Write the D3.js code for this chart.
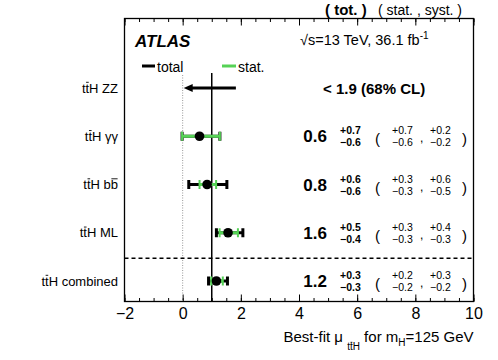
<!DOCTYPE html>
<html><head><meta charset="utf-8">
<script src="https://cdn.jsdelivr.net/npm/d3@7"></script>
<style>body{margin:0;background:#fff} text{font-family:"Liberation Sans",Arial,Helvetica,sans-serif}</style>
</head><body><svg id="c" width="498" height="360"></svg>
<script>
// ---- data ----
const categories = ["ttH ZZ", "ttH γγ", "ttH bb", "ttH ML", "ttH combined"];
const overlineIdx = [[1], [1], [1, 5], [1], [1]];
const limitZZ = 1.83;
const limitText = "< 1.9 (68% CL)";
const central = [null, 0.58, 0.84, 1.56, 1.16];
const totUp = [null, 0.70, 0.68, 0.51, 0.38];
const totDn = [null, 0.60, 0.63, 0.40, 0.27];
const statUp = [null, 0.70, 0.31, 0.34, 0.22];
const statDn = [null, 0.60, 0.26, 0.29, 0.18];
const valText = [null, "0.6", "0.8", "1.6", "1.2"];
const totUpText = [null, "+0.7", "+0.6", "+0.5", "+0.3"];
const totDnText = [null, "−0.6", "−0.6", "−0.4", "−0.3"];
const statUpText = [null, "+0.7", "+0.3", "+0.3", "+0.2"];
const statDnText = [null, "−0.6", "−0.3", "−0.3", "−0.2"];
const systUpText = [null, "+0.2", "+0.6", "+0.4", "+0.3"];
const systDnText = [null, "−0.2", "−0.5", "−0.3", "−0.2"];
const xMajorTicks = [-2, 0, 2, 4, 6, 8, 10];
const xMinorTicks = d3.range(-2, 10.01, 0.5);
const smRef = 1;       // SM expectation
const separatorPos = 3.53;

// ---- setup ----
const svg = d3.select("#c");
const L = 124.5, R = 473.5, T = 18.5, B = 301.5;
const x = d3.scaleLinear().domain([-2, 10]).range([L, R]);
const y = d3.scaleLinear().domain([0, 4]).range([88, 281]);
const green = "#56d256";

function overline(textSel, idxs) {
  const node = textSel.node();
  idxs.forEach(i => {
    if (i >= node.getNumberOfChars()) return;
    const e = node.getExtentOfChar(i);
    svg.append("line")
      .attr("x1", e.x + 0.6).attr("x2", e.x + e.width - 0.4)
      .attr("y1", e.y + e.height * 0.12).attr("y2", e.y + e.height * 0.12)
      .attr("stroke", "#000").attr("stroke-width", 0.9);
  });
}

// axes (ticks inward)
const gB = svg.append("g").attr("transform", `translate(0,${B})`);
gB.call(d3.axisBottom(x).tickValues(xMinorTicks).tickSize(-3.5).tickFormat(""));
const gBM = svg.append("g").attr("transform", `translate(0,${B})`);
gBM.call(d3.axisBottom(x).tickValues(xMajorTicks).tickSize(-7).tickPadding(6).tickFormat(d3.format("d")));
const gT = svg.append("g").attr("transform", `translate(0,${T})`);
gT.call(d3.axisTop(x).tickValues(xMinorTicks).tickSize(-3.5).tickFormat(""));
const gTM = svg.append("g").attr("transform", `translate(0,${T})`);
gTM.call(d3.axisTop(x).tickValues(xMajorTicks).tickSize(-7).tickFormat(""));
svg.selectAll(".domain").remove();
svg.selectAll(".tick line").attr("stroke", "#000").attr("stroke-width", 1);
gBM.selectAll(".tick text").attr("font-size", 16).attr("fill", "#000")
  .style("font-family", '"Liberation Sans",Arial,sans-serif');

// frame
svg.append("rect").attr("x", L).attr("y", T).attr("width", R - L).attr("height", B - T)
  .attr("fill", "none").attr("stroke", "#000").attr("stroke-width", 1.3);

// reference lines
svg.append("line").attr("x1", x(0)).attr("x2", x(0)).attr("y1", 75).attr("y2", B)
  .attr("stroke", "#9a9a9a").attr("stroke-width", 1).attr("stroke-dasharray", "1,1.5");
svg.append("line").attr("x1", x(smRef)).attr("x2", x(smRef)).attr("y1", 73).attr("y2", B)
  .attr("stroke", "#000").attr("stroke-width", 1.5);
svg.append("line").attr("x1", L).attr("x2", R).attr("y1", y(separatorPos)).attr("y2", y(separatorPos))
  .attr("stroke", "#000").attr("stroke-width", 1.5).attr("stroke-dasharray", "4,3");

// y labels
categories.forEach((c, i) => {
  const t = svg.append("text").attr("x", 118).attr("y", y(i) + 4.5)
    .attr("text-anchor", "end").attr("font-size", 13).text(c);
  overline(t, overlineIdx[i]);
});

// ZZ limit arrow
const yz = y(0);
svg.append("line").attr("x1", x(0) + 6).attr("x2", x(limitZZ)).attr("y1", yz).attr("y2", yz)
  .attr("stroke", "#000").attr("stroke-width", 3);
svg.append("path")
  .attr("d", `M${x(0) + 1},${yz} L${x(0) + 10},${yz - 4} L${x(0) + 10},${yz + 4} Z`)
  .attr("fill", "#000");
svg.append("text").attr("x", 323).attr("y", yz + 5.5).attr("font-size", 15)
  .attr("font-weight", "bold").text(limitText);

// error bars
for (let i = 1; i < categories.length; i++) {
  const yy = y(i), c = central[i];
  const bar = (lo, hi, col, w, cw) => {
    svg.append("line").attr("x1", x(lo)).attr("x2", x(hi)).attr("y1", yy).attr("y2", yy)
      .attr("stroke", col).attr("stroke-width", w);
    [lo, hi].forEach(v => svg.append("line").attr("x1", x(v)).attr("x2", x(v))
      .attr("y1", yy - 4.5).attr("y2", yy + 4.5).attr("stroke", col).attr("stroke-width", cw));
  };
  bar(c - totDn[i], c + totUp[i], "#000", 3, 3);
  bar(c - statDn[i], c + statUp[i], green, 3, 2);
  svg.append("circle").attr("cx", x(c)).attr("cy", yy).attr("r", 4.8).attr("fill", "#000");

  // value texts
  svg.append("text").attr("x", 327).attr("y", yy + 6).attr("text-anchor", "end")
    .attr("font-size", 17).attr("font-weight", "bold").text(valText[i]);
  svg.append("text").attr("x", 340).attr("y", yy - 2).attr("font-size", 10.5)
    .attr("font-weight", "bold").text(totUpText[i]);
  svg.append("text").attr("x", 340).attr("y", yy + 10).attr("font-size", 10.5)
    .attr("font-weight", "bold").text(totDnText[i]);
  svg.append("text").attr("x", 375).attr("y", yy + 8).attr("font-size", 15).text("(");
  svg.append("text").attr("x", 392).attr("y", yy - 2).attr("font-size", 10.5).text(statUpText[i]);
  svg.append("text").attr("x", 392).attr("y", yy + 10).attr("font-size", 10.5).text(statDnText[i]);
  svg.append("text").attr("x", 420).attr("y", yy + 6).attr("font-size", 12).text(",");
  svg.append("text").attr("x", 430).attr("y", yy - 2).attr("font-size", 10.5).text(systUpText[i]);
  svg.append("text").attr("x", 430).attr("y", yy + 10).attr("font-size", 10.5).text(systDnText[i]);
  svg.append("text").attr("x", 462).attr("y", yy + 8).attr("font-size", 15).text(")");
}

// header texts
svg.append("text").attr("x", 325).attr("y", 15).attr("font-size", 15).attr("font-weight", "bold").text("( tot. )");
svg.append("text").attr("x", 378).attr("y", 15).attr("font-size", 14).text("( stat. , syst. )");
svg.append("text").attr("x", 135).attr("y", 47).attr("font-size", 17).attr("font-weight", "bold")
  .attr("font-style", "italic").text("ATLAS");
const en = svg.append("text").attr("x", 300).attr("y", 45).attr("font-size", 14.5);
en.append("tspan").text("√s=13 TeV, 36.1 fb");
en.append("tspan").attr("dy", -6).attr("font-size", 10).text("-1");

// legend
svg.append("line").attr("x1", 142).attr("x2", 155).attr("y1", 66).attr("y2", 66).attr("stroke", "#000").attr("stroke-width", 3);
svg.append("text").attr("x", 157).attr("y", 71.5).attr("font-size", 14).text("total");
svg.append("line").attr("x1", 222).attr("x2", 236).attr("y1", 66).attr("y2", 66).attr("stroke", green).attr("stroke-width", 3);
svg.append("text").attr("x", 238).attr("y", 71.5).attr("font-size", 14).text("stat.");

// x title
const tt = svg.append("text").attr("x", R).attr("y", 342).attr("text-anchor", "end").attr("font-size", 15);
tt.append("tspan").text("Best-fit μ ");
tt.append("tspan").attr("dy", 8).attr("font-size", 10).text("ttH");
tt.append("tspan").attr("dy", -8).text(" for m");
tt.append("tspan").attr("dy", 4).attr("font-size", 10).text("H");
tt.append("tspan").attr("dy", -4).text("=125 GeV");
overline(tt, [12]);
</script></body></html>
